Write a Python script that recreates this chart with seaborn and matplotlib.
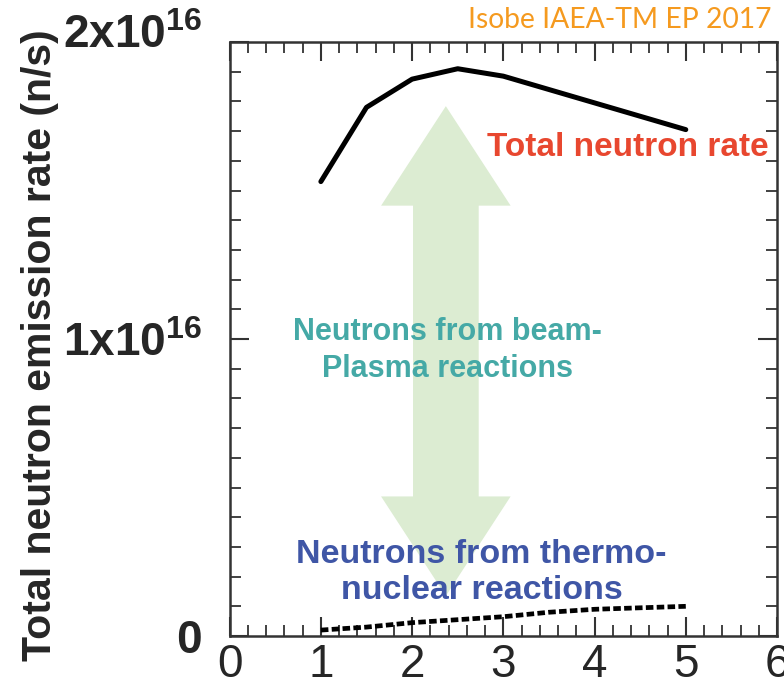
import numpy as np
import pandas as pd
import matplotlib
matplotlib.use("Agg")
import matplotlib.pyplot as plt
from matplotlib.patches import Polygon
from matplotlib.transforms import ScaledTranslation
from matplotlib.ticker import MultipleLocator, FixedLocator, FixedFormatter
import seaborn as sns

# Beam energy axis and emission rates
energy = [1.0, 1.5, 2.0, 2.5, 3.0, 3.5, 4.0, 4.5, 5.0]
total_rate = [1.53e16, 1.78e16, 1.875e16, 1.91e16, 1.885e16, 1.84e16, 1.795e16, 1.75e16, 1.705e16]
thermo_rate = [0.02e16, 0.03e16, 0.045e16, 0.055e16, 0.065e16, 0.08e16, 0.09e16, 0.095e16, 0.10e16]

x_ticks = [0, 1, 2, 3, 4, 5, 6]
y_ticks = [0, 1e16, 2e16]
y_tick_labels = [r"$\mathbf{0}$", r"$\mathbf{1x10^{16}}$", r"$\mathbf{2x10^{16}}$"]

df = pd.DataFrame({"energy": energy, "total": total_rate, "thermo": thermo_rate})

sns.set_theme(style="ticks")
plt.rcParams["font.family"] = ["Liberation Sans", "DejaVu Sans"]
plt.rcParams["mathtext.fontset"] = "custom"
plt.rcParams["mathtext.rm"] = "Liberation Sans"
plt.rcParams["mathtext.bf"] = "Liberation Sans:bold"

fig = plt.figure(figsize=(7.84, 6.92), dpi=100)
ax = fig.add_axes([0.2929, 0.0809, 0.6982, 0.8584])

# Double-headed arrow spanning the beam-plasma contribution
cx, y_lo, y_hi = 2.37, 0.135e16, 1.784e16
head_w, shaft_w, head_len = 0.71, 0.36, 0.335e16
arrow_pts = [
    (cx, y_hi), (cx + head_w, y_hi - head_len), (cx + shaft_w, y_hi - head_len),
    (cx + shaft_w, y_lo + head_len), (cx + head_w, y_lo + head_len), (cx, y_lo),
    (cx - head_w, y_lo + head_len), (cx - shaft_w, y_lo + head_len),
    (cx - shaft_w, y_hi - head_len), (cx - head_w, y_hi - head_len),
]
ax.add_patch(Polygon(arrow_pts, closed=True, facecolor="#dcecd2", edgecolor="none", zorder=1))

sns.lineplot(data=df, x="energy", y="total", ax=ax, color="black", linewidth=3.6, zorder=3)
sns.lineplot(data=df, x="energy", y="thermo", ax=ax, color="black", linewidth=3.4,
             dashes=False, zorder=3)
ax.lines[-1].set_dashes([1.6, 0.7])

ax.set_xlim(0, 6)
ax.set_ylim(0, 2e16)

ax.xaxis.set_major_locator(FixedLocator(x_ticks))
ax.xaxis.set_minor_locator(MultipleLocator(0.2))
ax.yaxis.set_major_locator(FixedLocator(y_ticks))
ax.yaxis.set_major_formatter(FixedFormatter(y_tick_labels))
ax.yaxis.set_minor_locator(MultipleLocator(1e15))

ax.tick_params(axis="both", which="both", direction="in", top=True, right=True,
               color="#333333")
ax.tick_params(axis="both", which="major", length=14, width=1.5)
ax.tick_params(axis="both", which="minor", length=8, width=1.3)
ax.tick_params(axis="x", which="major", labelsize=33, pad=5)
ax.tick_params(axis="y", which="major", labelsize=33, pad=20)

# lift the top value label clear of the frame corner
fig.canvas.draw()
top_label = ax.yaxis.get_majorticklabels()[-1]
top_label.set_transform(top_label.get_transform()
                        + ScaledTranslation(0, 8 / 72, fig.dpi_scale_trans))

for s in ax.spines.values():
    s.set_linewidth(1.8)
    s.set_color("#333333")

ax.set_xlabel("")
ax.set_ylabel("Total neutron emission rate (n/s)", fontsize=29.5, fontweight="bold")
ax.yaxis.set_label_coords(-0.312, 0.49)

ax.text(2.82, 1.645e16, "Total neutron rate", color="#e8472f", fontsize=24,
        fontweight="bold", ha="left", va="center", zorder=4)
ax.text(2.39, 0.962e16, "Neutrons from beam-\nPlasma reactions", color="#45a9a6",
        fontsize=22, fontweight="bold", ha="center", va="center",
        multialignment="center", linespacing=1.3, zorder=4)
ax.text(2.76, 0.215e16, "Neutrons from thermo-\nnuclear reactions", color="#3f56a6",
        fontsize=24.5, fontweight="bold", ha="center", va="center",
        multialignment="center", linespacing=1.22, zorder=4)

fig.text(772 / 784, 1 - 28 / 692, "Isobe IAEA-TM EP 2017", color="#f59a1f",
         fontsize=20.3, fontfamily=["Lato", "DejaVu Sans"], ha="right", va="baseline")

fig.savefig("out.png", dpi=100)
